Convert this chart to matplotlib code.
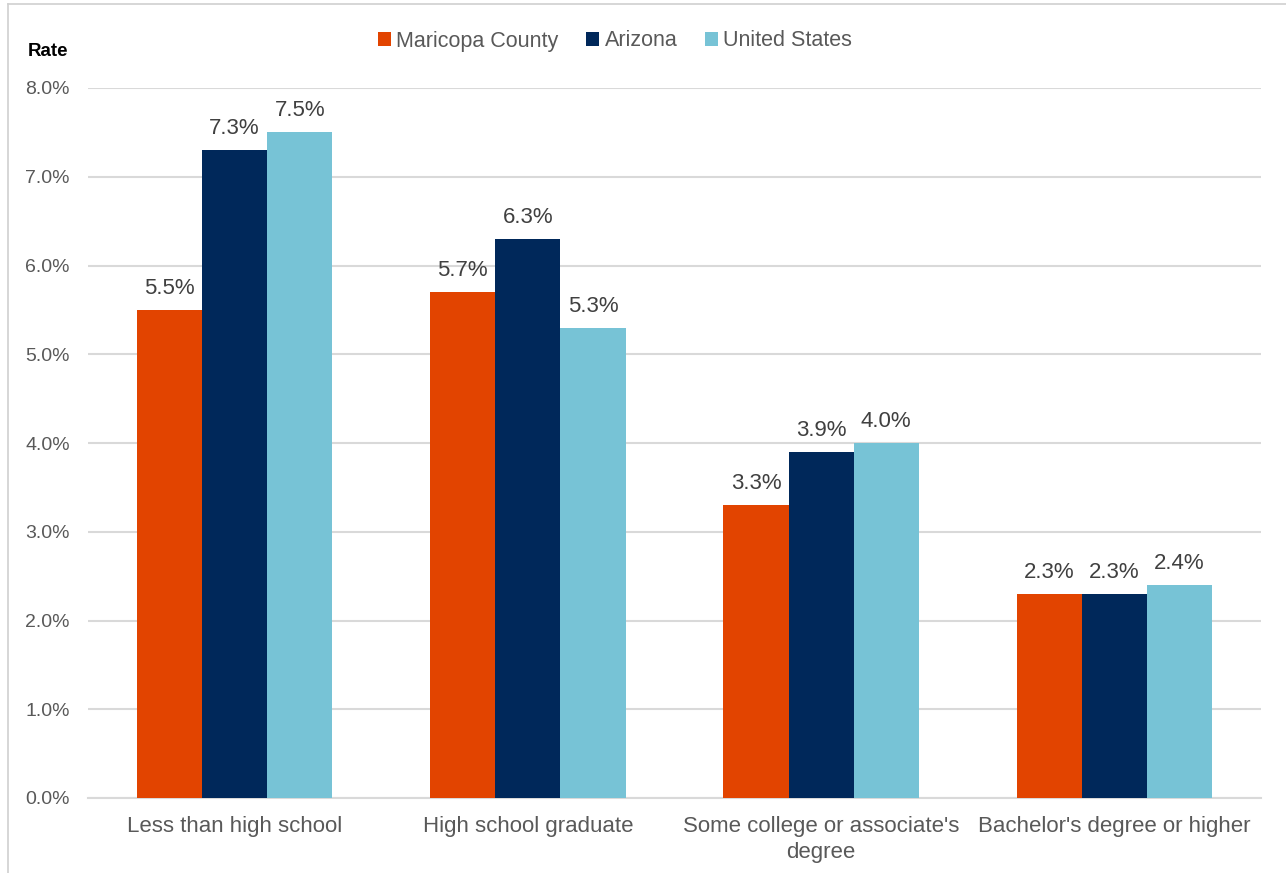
import matplotlib
matplotlib.use("Agg")
import matplotlib.pyplot as plt
from matplotlib.patches import Patch
from matplotlib.lines import Line2D
import numpy as np

categories = ["Less than high school", "High school graduate",
              "Some college or associate's\ndegree", "Bachelor's degree or higher"]
series_names = ["Maricopa County", "Arizona", "United States"]
maricopa = [5.5, 5.7, 3.3, 2.3]
arizona = [7.3, 6.3, 3.9, 2.3]
united_states = [7.5, 5.3, 4.0, 2.4]
yticks = [0, 1, 2, 3, 4, 5, 6, 7, 8]
colors = ["#E24400", "#00285A", "#77C3D6"]

plt.rcParams['font.family'] = ['Liberation Sans', 'DejaVu Sans']

fig = plt.figure(figsize=(12.86, 8.73), dpi=100)
ax = fig.add_axes([88/1286, 1-798/873, (1261-88)/1286, (798-88)/873])

x = np.arange(len(categories))
w = 0.222
for i, (vals, c) in enumerate(zip([maricopa, arizona, united_states], colors)):
    ax.bar(x + (i-1)*w, vals, width=w, color=c, zorder=3, label=series_names[i])
    for xi, v in zip(x + (i-1)*w, vals):
        ax.annotate(f"{v:.1f}%", (xi, v), xytext=(0, 8), textcoords="offset points",
                    ha="center", va="bottom", fontsize=16, color="#404040")

ax.set_xlim(-0.5, 3.5)
ax.set_ylim(0, 8)
ax.set_yticks(yticks)
ax.set_yticklabels([f"{t:.1f}%" for t in yticks])
ax.set_xticks(x)
ax.set_xticklabels(categories, linespacing=1.3)
ax.tick_params(axis='y', length=0, pad=13, labelsize=14, labelcolor="#595959")
ax.tick_params(axis='x', length=0, pad=13, labelsize=16, labelcolor="#595959")
ax.grid(axis='y', color="#D9D9D9", linewidth=1.5, zorder=0)
for s in ["top", "right", "left"]:
    ax.spines[s].set_visible(False)
ax.spines["bottom"].set_color("#D9D9D9")
ax.spines["bottom"].set_linewidth(1.5)

fig.text(28/1286, 1-52/873, "Rate", fontsize=13.5, fontweight="bold", color="black",
         ha="left", va="center")

handles = [Patch(facecolor=c, edgecolor='none') for c in colors]
fig.legend(handles, series_names, loc="center", bbox_to_anchor=(615/1286, 1-41/873),
           ncol=3, frameon=False, fontsize=15.5, labelcolor="#595959",
           handlelength=0.6, handleheight=0.6, handletextpad=0.25, columnspacing=1.3)

# frame border
fig.add_artist(Line2D([8/1286, 8/1286], [0, 1-4/873], color="#D0D0D0", lw=1.2))
fig.add_artist(Line2D([8/1286, 1], [1-4/873, 1-4/873], color="#D0D0D0", lw=1.2))

fig.savefig("out.png", dpi=100)
